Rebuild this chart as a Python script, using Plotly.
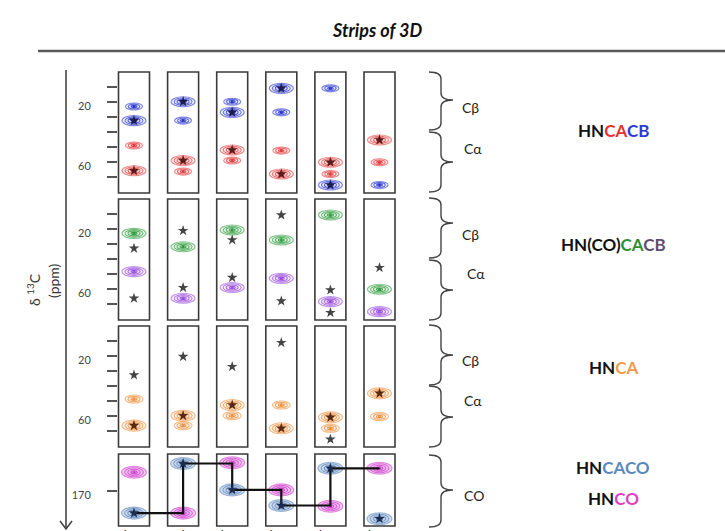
import plotly.graph_objects as go

W, H = 725, 531

strips = ["i - 1", "i", "i + 1", "i + 2", "i + 3", "i + 4"]

# HNCACB (ppm)
hncacb_ca_strong = [65.8, 59.0, 52.0, 68.0, 60.2, 45.3]
hncacb_ca_weak = [49.0, 66.4, 59.0, 52.4, 68.0, 60.2]
hncacb_cb_strong = [32.4, 19.8, 26.9, 10.9, 75.3, None]
hncacb_cb_weak = [23.0, 32.4, 19.8, 26.9, 10.9, 75.3]

# HN(CO)CACB (ppm)
hncocacb_green = [22.9, 31.8, 20.7, 27.3, 10.7, 60.2]
hncocacb_purple = [48.4, 66.2, 59.0, 52.9, 68.4, 75.1]
hncocacb_star_cb = [32.9, 21.1, 27.3, 10.7, 75.8, None]
hncocacb_star_ca = [66.2, 59.1, 52.4, 68.0, 60.7, 45.8]

# HNCA (ppm)
hnca_strong = [66.4, 59.8, 52.7, 68.2, 60.9, 44.9]
hnca_weak = [48.7, 66.4, 59.8, 52.7, 68.2, 60.4]
hnca_star_cb = [32.7, 20.4, 27.1, 11.1, 75.5, None]

# HNCACO / HNCO (ppm)
hncaco_co = [175.6, 163.2, 169.8, 173.7, 164.4, 177.0]
hnco_co = [165.4, 175.6, 163.0, 169.8, 173.9, 164.4]

ppm_ticks = [10, 20, 30, 40, 50, 60, 70]
ppm_ticktext = [" ", "20", " ", " ", " ", "60", " "]
co_ticks = [170]
co_ticktext = ["170"]

# ---------- geometry helpers (pixels -> paper) ----------
def px(x):
    return x / W

def py(y):
    return 1 - y / H

STRIP0, STRIP_DX = 134.0, 49.1
XR = [-STRIP0 / STRIP_DX, (W - STRIP0) / STRIP_DX]
HALF_STRIP = 15.5 / STRIP_DX

panels = [  # (top px, bottom px, range, px per ppm)
    (72, 193, [(193 - 72) / 1.5, 0], 1.5),
    (199, 320, [(320 - 199) / 1.5, 0], 1.5),
    (326, 447, [(447 - 326) / 1.5, 0], 1.5),
    (454, 526, [170 + (526 - 490.7) / 4, 170 - (490.7 - 454) / 4], 4.0),
]

fig = go.Figure()
layout = dict(width=W, height=H, autosize=False,
              margin=dict(l=0, r=0, t=0, b=0, pad=0),
              paper_bgcolor="white", plot_bgcolor="rgba(0,0,0,0)",
              showlegend=False, font=dict(family="Lato, Open Sans, sans-serif", color="#333"))

for k, (top, bot, rng, sc) in enumerate(panels, start=1):
    xs = "" if k == 1 else str(k)
    xa = dict(domain=[0, 1], range=XR, anchor="y" + xs, showgrid=False,
              zeroline=False, showline=False, fixedrange=True, automargin=False)
    if k == 4:
        xa.update(tickvals=list(range(len(strips))), ticktext=strips, ticks="",
                  tickfont=dict(size=12, color="#333"), showticklabels=True)
    else:
        xa.update(showticklabels=False, ticks="")
    ya = dict(domain=[py(bot), py(top)], range=rng, anchor="free", position=px(117),
              showgrid=False, zeroline=False, showline=False, ticks="outside",
              ticklen=10, tickwidth=1.5, tickcolor="#555", automargin=False,
              tickfont=dict(size=11, color="#444"), ticklabelstandoff=14,
              ticklabelshift=-4, fixedrange=True)
    if k == 4:
        ya.update(tickvals=co_ticks, ticktext=co_ticktext)
    else:
        ya.update(tickvals=ppm_ticks, ticktext=ppm_ticktext)
    layout["xaxis" + xs] = xa
    layout["yaxis" + xs] = ya

shapes = []
annotations = []


def note(text, x, y, size, color="#222", xanchor="center", angle=0):
    annotations.append(dict(text=text, x=px(x), y=py(y), xref="paper", yref="paper",
                            xanchor=xanchor, yanchor="middle", showarrow=False,
                            textangle=angle, font=dict(size=size, color=color)))


# strip boxes
for k in range(1, 5):
    xs = "" if k == 1 else str(k)
    for i in range(len(strips)):
        shapes.append(dict(type="rect", xref="x" + xs, yref="y" + xs + " domain",
                           x0=i - HALF_STRIP, x1=i + HALF_STRIP, y0=0, y1=1,
                           line=dict(color="#3a3a3a", width=1.6), layer="below"))


def rgba(hexc, a):
    hexc = hexc.lstrip("#")
    r, g, b = int(hexc[0:2], 16), int(hexc[2:4], 16), int(hexc[4:6], 16)
    return f"rgba({r},{g},{b},{a})"


def add_peaks(values, panel, color, w_px, h_px, nrings, fill_a=0.05, outer_fill=None):
    xs = "" if panel == 1 else str(panel)
    sc = panels[panel - 1][3]
    hx = w_px / 2 / STRIP_DX
    hy = h_px / 2 / sc
    cx, cy = [], []
    for i, v in enumerate(values):
        if v is None:
            continue
        cx.append(i)
        cy.append(v)
        for r in range(nrings, 0, -1):
            s = r / nrings
            fc = rgba(color, fill_a)
            if outer_fill and r == nrings:
                fc = outer_fill
            shapes.append(dict(type="circle", xref="x" + xs, yref="y" + xs,
                               x0=i - hx * s, x1=i + hx * s, y0=v - hy * s, y1=v + hy * s,
                               line=dict(color=rgba(color, 0.6 + 0.4 * (1 - s)), width=1.1),
                               fillcolor=fc, layer="below"))
    fig.add_trace(go.Scatter(x=cx, y=cy, xaxis="x" + xs, yaxis="y" + xs, mode="markers",
                             marker=dict(color=color, size=3), hoverinfo="skip"))


def add_stars(values, panel, color="#3a2e2e", size=9):
    xs = "" if panel == 1 else str(panel)
    cx = [i for i, v in enumerate(values) if v is not None]
    cy = [v for v in values if v is not None]
    fig.add_trace(go.Scatter(x=cx, y=cy, xaxis="x" + xs, yaxis="y" + xs, mode="markers",
                             marker=dict(symbol="star", color=color, size=size),
                             hoverinfo="skip"))


RED, BLUE = "#e43a3a", "#2a36d0"
GREEN, PURPLE = "#2f9c3c", "#9a4de0"
ORANGE = "#ee8f3a"
STEEL, MAGENTA = "#5d86bb", "#d23fcf"

# Panel 1: HNCACB
add_peaks(hncacb_cb_weak, 1, BLUE, 17, 7, 3)
add_peaks(hncacb_cb_strong, 1, BLUE, 24, 10, 4)
add_peaks(hncacb_ca_weak, 1, RED, 17, 7, 3)
add_peaks(hncacb_ca_strong, 1, RED, 24, 10, 4)
add_stars(hncacb_cb_strong, 1, "#1c1c50", 8)
add_stars(hncacb_ca_strong, 1, "#5a1c1c", 8)

# Panel 2: HN(CO)CACB
add_peaks(hncocacb_green, 2, GREEN, 24, 10, 4)
add_peaks(hncocacb_purple, 2, PURPLE, 24, 10, 4)
add_stars(hncocacb_star_cb, 2, "#444", 8)
add_stars(hncocacb_star_ca, 2, "#444", 8)

# Panel 3: HNCA
add_peaks(hnca_weak, 3, ORANGE, 18, 8, 3)
add_peaks(hnca_strong, 3, ORANGE, 24, 11, 4)
add_stars(hnca_strong, 3, "#5a2a10", 8)
add_stars(hnca_star_cb, 3, "#444", 8)

# Panel 4: HNCACO / HNCO
add_peaks(hnco_co, 4, MAGENTA, 25, 12, 4, fill_a=0.08, outer_fill=rgba("#e8a0e8", 0.5))
add_peaks(hncaco_co, 4, STEEL, 25, 12, 4, fill_a=0.08, outer_fill=rgba("#b8cce6", 0.6))

# sequential walk line through the CO strips
walk_x, walk_y = [], []
for i in range(len(hncaco_co) - 1):
    walk_x += [i, i + 1]
    walk_y += [hncaco_co[i], hncaco_co[i]]
fig.add_trace(go.Scatter(x=walk_x, y=walk_y, xaxis="x4", yaxis="y4", mode="lines",
                         line=dict(color="#111", width=2.2, shape="vh"), hoverinfo="skip"))
add_stars(hncaco_co, 4, "#1c2c50", 8)

# ---------- decorations ----------
note("<b><i>Strips of 3D</i></b>", 377, 30, 18, "#111")
shapes.append(dict(type="line", xref="paper", yref="paper", x0=px(38), x1=1, y0=py(51), y1=py(51),
                   line=dict(color="#5a5a5a", width=2.5)))
shapes.append(dict(type="line", xref="paper", yref="paper", x0=px(66), x1=px(66), y0=py(70), y1=py(529),
                   line=dict(color="#444", width=1.6)))
shapes.append(dict(type="path", xref="paper", yref="paper",
                   path=f"M {px(60)},{py(521)} L {px(66)},{py(529)} L {px(72)},{py(521)}",
                   line=dict(color="#444", width=1.6)))
note("δ <sup>13</sup>C", 33, 290, 14, "#333", angle=-90)
note("(ppm)", 53, 281, 14, "#333", angle=-90)


def brace(yt, ym, yb, xl=429, xs=441, xt=453, r=7):
    p = (f"M {px(xl)},{py(yt)} Q {px(xs)},{py(yt)} {px(xs)},{py(yt + r)} "
         f"L {px(xs)},{py(ym - r)} Q {px(xs)},{py(ym)} {px(xt)},{py(ym)} "
         f"Q {px(xs)},{py(ym)} {px(xs)},{py(ym + r)} "
         f"L {px(xs)},{py(yb - r)} Q {px(xs)},{py(yb)} {px(xl)},{py(yb)}")
    shapes.append(dict(type="path", xref="paper", yref="paper", path=p,
                       line=dict(color="#444", width=1.4)))


braces = [(72, 100, 130, "Cβ", 460, 107), (132, 162, 192, "Cα", 462, 148),
          (198, 223, 258, "Cβ", 460, 235), (260, 290, 320, "Cα", 465, 273),
          (325, 355, 385, "Cβ", 460, 360), (386, 417, 447, "Cα", 462, 400),
          (455, 490, 527, "CO", 462, 495)]
for yt, ym, yb, lab, lx, ly in braces:
    brace(yt, ym, yb)
    note(lab, lx, ly, 14, "#222", xanchor="left")


def sp(t, c):
    return f"<span style='color:{c}'>{t}</span>"


labels = [
    ("HN" + sp("CA", "#e8312f") + sp("CB", "#2a3bd1"), 130),
    ("HN(CO)" + sp("CA", "#2e8f36") + sp("CB", "#5e4d72"), 245),
    ("HN" + sp("CA", "#ef9a4a"), 367),
    ("HN" + sp("CACO", "#5b88bf"), 467),
    ("HN" + sp("CO", "#e03fc2"), 498),
]
for txt, ly in labels:
    note(f"<b>{txt}</b>", 613, ly, 17, "#111")

layout["shapes"] = shapes
layout["annotations"] = annotations
fig.update_layout(**layout)
fig.write_html("out.html", config={"displayModeBar": False},
               post_script="document.body.style.margin='0px';")
